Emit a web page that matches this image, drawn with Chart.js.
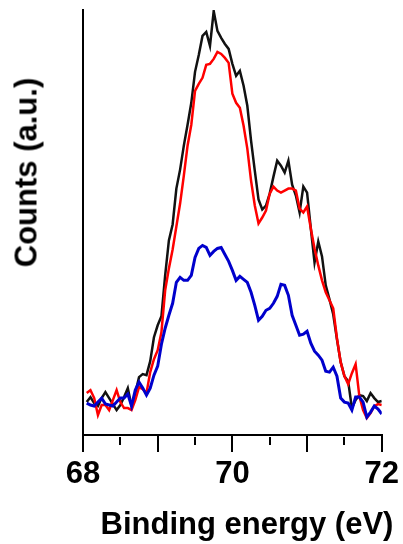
<!DOCTYPE html>
<html>
<head>
<meta charset="utf-8">
<script src="https://cdn.jsdelivr.net/npm/chart.js@4.4.1/dist/chart.umd.min.js"></script>
<style>
  body { margin: 0; background: #fff; }
  #wrap { position: relative; width: 403px; height: 544px; }
  .title { position: absolute; font: bold 31px "Liberation Sans", Arial, sans-serif; line-height: 31px; color: #000; text-align: center; white-space: nowrap; }
  #ytitle { width: 300px; left: -124px; top: 157px; transform: rotate(-90deg); }
  #xtitle { width: 400px; left: 47px; top: 508px; }
</style>
</head>
<body>
<div id="wrap">
  <canvas id="myChart"></canvas>
  <div id="ytitle" class="title">Counts (a.u.)</div>
  <div id="xtitle" class="title">Binding energy (eV)</div>
</div>
<script>
var energies = [68.05, 68.10, 68.15, 68.20, 68.25, 68.30, 68.35, 68.40, 68.45, 68.50,
    68.55, 68.60, 68.65, 68.70, 68.75, 68.80, 68.85, 68.90, 68.95, 69.00,
    69.05, 69.10, 69.15, 69.20, 69.25, 69.30, 69.35, 69.40, 69.45, 69.50,
    69.55, 69.60, 69.65, 69.70, 69.75, 69.80, 69.85, 69.90, 69.95, 70.00,
    70.05, 70.10, 70.15, 70.20, 70.25, 70.30, 70.35, 70.40, 70.45, 70.50,
    70.55, 70.60, 70.65, 70.70, 70.75, 70.80, 70.85, 70.90, 70.95, 71.00,
    71.05, 71.10, 71.15, 71.20, 71.25, 71.30, 71.35, 71.40, 71.45, 71.50,
    71.55, 71.60, 71.65, 71.70, 71.75, 71.80, 71.85, 71.90, 71.95, 72.00];

var countsBlack = [33, 38, 32, 29, 37, 43, 37, 31, 25, 30,
    38, 47, 29, 42, 58, 61, 60, 74, 98, 110,
    119, 160, 195, 211, 247, 266, 290, 311, 333, 364,
    381, 400, 404, 390, 425, 405, 398, 392, 387, 372,
    360, 365, 350, 330, 295, 265, 236, 226, 230, 242,
    259, 275, 270, 263, 275, 251, 240, 223, 249, 243,
    207, 173, 194, 179, 150, 136, 121, 96, 73, 59,
    54, 27, 35, 40, 39, 34, 42, 37, 33, 34];

var countsRed = [42, 45, 37, 20, 30, 30, 25, 35, 45, 33,
    27, 27, 25, 35, 48, 46, 42, 63, 76, 85,
    103, 145, 167, 186, 209, 232, 260, 290, 311, 345,
    352, 358, 371, 372, 377, 384, 382, 378, 373, 342,
    333, 328, 310, 287, 255, 230, 212, 218, 225, 242,
    249, 245, 243, 245, 247, 247, 245, 227, 223, 229,
    207, 187, 170, 155, 143, 135, 127, 97, 73, 59,
    51, 62, 71, 39, 25, 17, 22, 29, 31, 30];

var countsBlue = [32, 30, 29, 33, 37, 31, 30, 29, 33, 37,
    37, 41, 29, 45, 53, 47, 40, 47, 60, 69,
    91, 107, 120, 132, 153, 158, 155, 155, 160, 178,
    187, 190, 188, 180, 184, 187, 188, 181, 174, 165,
    155, 159, 156, 153, 143, 130, 115, 119, 125, 127,
    132, 139, 151, 150, 140, 120, 110, 100, 101, 104,
    92, 84, 80, 75, 64, 63, 68, 59, 37, 33,
    32, 25, 38, 38, 33, 18, 23, 29, 26, 21];

var labeledTicks = [68, 70, 72];
var minorTicks = [68.5, 69.5, 70.5, 71.5];

function toPoints(values) {
    return values.map(function(v, i) { return { x: energies[i], y: v }; });
}

// short ticks at the half-eV marks
var minorTickPlugin = {
    id: 'minorTicks',
    afterDraw: function(chart) {
        var ctx = chart.ctx;
        var xs = chart.scales.x;
        var y0 = chart.chartArea.bottom;
        ctx.save();
        ctx.strokeStyle = '#000';
        ctx.lineWidth = 2;
        minorTicks.forEach(function(v) {
            var px = Math.round(xs.getPixelForValue(v));
            ctx.beginPath();
            ctx.moveTo(px, y0 + 2);
            ctx.lineTo(px, y0 + 10);
            ctx.stroke();
        });
        ctx.restore();
    }
};

var ctx = document.getElementById('myChart').getContext('2d');
var chart = new Chart(ctx, {
    type: 'line',
    data: {
        datasets: [
            {
                label: 'black',
                data: toPoints(countsBlack),
                borderColor: '#111111',
                borderWidth: 2.5,
                order: 3
            },
            {
                label: 'red',
                data: toPoints(countsRed),
                borderColor: '#ff0000',
                borderWidth: 2.5,
                order: 2
            },
            {
                label: 'blue',
                data: toPoints(countsBlue),
                borderColor: '#0000cc',
                borderWidth: 3,
                order: 1
            }
        ]
    },
    options: {
        responsive: true,
        maintainAspectRatio: false,
        animation: false,
        elements: {
            point: { radius: 0 },
            line: { tension: 0 }
        },
        layout: {
            padding: { left: 83, right: 21, top: 10, bottom: 0 }
        },
        scales: {
            x: {
                type: 'linear',
                min: 68,
                max: 72,
                afterFit: function(scale) { scale.height = 109; },
                border: { display: true, color: '#000', width: 2 },
                grid: {
                    drawOnChartArea: false,
                    tickLength: 17,
                    lineWidth: 2,
                    color: function(c) {
                        return (c.tick && Number.isInteger(c.tick.value)) ? '#000' : 'rgba(0,0,0,0)';
                    }
                },
                ticks: {
                    stepSize: 0.5,
                    autoSkip: false,
                    maxRotation: 0,
                    padding: 4,
                    color: '#000',
                    font: { family: '"Liberation Sans", Arial, sans-serif', size: 31, weight: 'bold' },
                    callback: function(value) {
                        return labeledTicks.indexOf(value) >= 0 ? String(value) : '';
                    }
                }
            },
            y: {
                min: 0,
                max: 426,
                afterFit: function(scale) { scale.width = 0; },
                border: { display: true, color: '#000', width: 2 },
                grid: { display: false, drawTicks: false },
                ticks: { display: false }
            }
        },
        plugins: {
            legend: { display: false },
            tooltip: { enabled: false }
        }
    },
    plugins: [minorTickPlugin]
});
</script>
</body>
</html>
